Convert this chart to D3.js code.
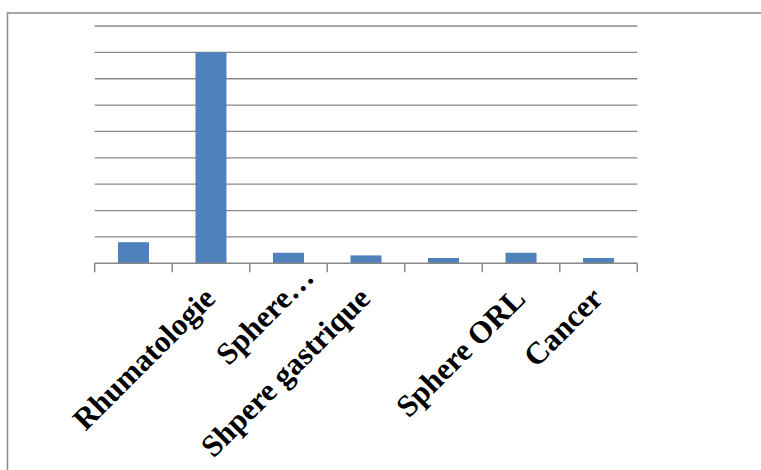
<!DOCTYPE html>
<html>
<head>
<meta charset="utf-8">
<script src="https://cdn.jsdelivr.net/npm/d3@7/dist/d3.min.js"></script>
<style>
  html, body { margin: 0; padding: 0; background: #ffffff; }
  svg { display: block; }
</style>
</head>
<body>
<script>
// Categories (first and fifth have no visible label)
const categories = ["", "Rhumatologie", "Sphere…", "Shpere gastrique", "", "Sphere ORL", "Cancer"];
const values = [8, 80, 4, 3, 2, 4, 2];
const yTicks = [0, 10, 20, 30, 40, 50, 60, 70, 80, 90];

const W = 761, H = 470;
const margin = { left: 94.7, right: 761 - 637.3, top: 26, bottom: 470 - 263.3 };

const svg = d3.select("body").append("svg")
  .attr("width", W).attr("height", H);

// Outer chart frame
svg.append("rect")
  .attr("x", 7.5).attr("y", 13)
  .attr("width", 900).attr("height", 600)
  .attr("fill", "none")
  .attr("stroke", "#898989")
  .attr("stroke-width", 1.5);

const x = d3.scaleBand()
  .domain(d3.range(categories.length))
  .range([margin.left, W - margin.right])
  .paddingInner(0.6)
  .paddingOuter(0.3);

const xEdges = d3.scaleBand()
  .domain(d3.range(categories.length))
  .range([margin.left, W - margin.right])
  .padding(0);

const y = d3.scaleLinear()
  .domain([0, 90])
  .range([H - margin.bottom, margin.top]);

// Horizontal gridlines
svg.append("g")
  .selectAll("line")
  .data(yTicks.filter(t => t > 0))
  .join("line")
  .attr("x1", margin.left).attr("x2", W - margin.right)
  .attr("y1", d => y(d)).attr("y2", d => y(d))
  .attr("stroke", "#888888")
  .attr("stroke-width", 1.3);

// Bars
svg.append("g")
  .selectAll("rect")
  .data(values)
  .join("rect")
  .attr("x", (d, i) => x(i))
  .attr("width", x.bandwidth())
  .attr("y", d => y(d))
  .attr("height", d => y(0) - y(d))
  .attr("fill", "#4F81BD");

// Category axis line and tick marks at band edges
const axisG = svg.append("g");
axisG.append("line")
  .attr("x1", margin.left).attr("x2", W - margin.right)
  .attr("y1", y(0)).attr("y2", y(0))
  .attr("stroke", "#888888").attr("stroke-width", 1.5);

const edges = d3.range(categories.length).map(i => xEdges(i)).concat([W - margin.right]);
axisG.selectAll("line.tick")
  .data(edges)
  .join("line")
  .attr("class", "tick")
  .attr("x1", d => d).attr("x2", d => d)
  .attr("y1", y(0)).attr("y2", y(0) + 9)
  .attr("stroke", "#888888").attr("stroke-width", 1.5);

// Rotated category labels
svg.append("g")
  .selectAll("text")
  .data(categories)
  .join("text")
  .attr("transform", (d, i) => {
    const cx = xEdges(i) + xEdges.bandwidth() / 2;
    return `translate(${cx + 6},${y(0) + 37}) rotate(-45)`;
  })
  .attr("dx", d => d.endsWith("…") ? 30 : 0)
  .attr("text-anchor", "end")
  .attr("font-family", "'Liberation Serif', 'Times New Roman', serif")
  .attr("font-weight", "bold")
  .attr("font-size", 31)
  .attr("fill", "#000000")
  .text(d => d);
</script>
</body>
</html>
